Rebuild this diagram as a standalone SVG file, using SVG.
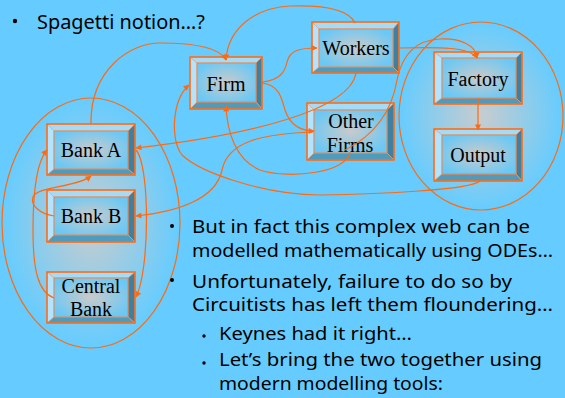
<svg xmlns="http://www.w3.org/2000/svg" width="565" height="398" viewBox="0 0 565 398">
<style>
.bg{fill:#66CCFF}
.ell{stroke:#FF6A10;stroke-width:1.2}
.bt{fill:#A2DCF8;stroke:#F2A070;stroke-width:0.6}
.bl{fill:#B2E4FF;stroke:#F2A070;stroke-width:0.6}
.br{fill:#3F7F9F;stroke:#F2A070;stroke-width:0.6}
.bb{fill:#4E9BBE;stroke:#F2A070;stroke-width:0.6}
.face{fill:url(#fg);stroke:#F0844A;stroke-width:1}
.outer{fill:none;stroke:#FF6A10;stroke-width:1.5}
.lbl{font-family:"Liberation Serif","Times New Roman",serif;font-size:20px;fill:#000;text-anchor:middle}
.txt{font-family:"Noto Sans","DejaVu Sans",sans-serif;font-size:18px;fill:#000}
.con{fill:none;stroke:#FF6A10;stroke-width:1.2}
</style>
<defs>
<radialGradient id="fg" cx="50%" cy="50%" r="60%">
<stop offset="0" stop-color="#CACACA"/>
<stop offset="1" stop-color="#68C8F6"/>
</radialGradient>
<radialGradient id="eg" cx="50%" cy="50%" r="50%">
<stop offset="0" stop-color="#C8CCCE"/>
<stop offset="1" stop-color="#66CCFF"/>
</radialGradient>
<marker id="ah" viewBox="0 0 10 10" refX="9" refY="5" markerWidth="7" markerHeight="6" markerUnits="userSpaceOnUse" orient="auto">
<path d="M0,0 L10,5 L0,10 z" fill="#FF6A10"/>
</marker>
</defs>
<rect class="bg" x="0" y="0" width="565" height="398"/>

<g id="groups">
<ellipse class="ell" cx="91" cy="223" rx="89" ry="125" fill="url(#eg)"/>
<ellipse class="ell" cx="481" cy="116" rx="82" ry="94" fill="url(#eg)"/>
</g>

<g id="firm">
<polygon class="bt" points="190,57 262,57 256,63 197,63"/>
<polygon class="bl" points="190,57 197,63 197,102 190,109"/>
<polygon class="br" points="262,57 262,109 256,102 256,63"/>
<polygon class="bb" points="190,109 262,109 256,102 197,102"/>
<rect class="face" x="197" y="63" width="59" height="39"/>
<rect class="outer" x="190" y="57" width="72" height="52"/>
<text class="lbl" x="226" y="91">Firm</text>
</g>

<g id="workers">
<polygon class="bt" points="312,22 399,22 393,29 319,29"/>
<polygon class="bl" points="312,22 319,29 319,67 312,73"/>
<polygon class="br" points="399,22 399,73 393,67 393,29"/>
<polygon class="bb" points="312,73 399,73 393,67 319,67"/>
<rect class="face" x="319" y="29" width="74" height="38"/>
<rect class="outer" x="312" y="22" width="87" height="51"/>
<text class="lbl" x="356" y="55">Workers</text>
</g>

<g id="other-firms">
<polygon class="bt" points="307,103 394,103 387,110 314,110"/>
<polygon class="bl" points="307,103 314,110 314,153 307,160"/>
<polygon class="br" points="394,103 394,160 387,153 387,110"/>
<polygon class="bb" points="307,160 394,160 387,153 314,153"/>
<rect class="face" x="314" y="110" width="73" height="43"/>
<rect class="outer" x="307" y="103" width="87" height="57"/>
<text class="lbl" x="351" y="128">Other</text>
<text class="lbl" x="350" y="152">Firms</text>
</g>

<g id="factory">
<polygon class="bt" points="434,52 522,52 516,58 442,58"/>
<polygon class="bl" points="434,52 442,58 442,98 434,104"/>
<polygon class="br" points="522,52 522,104 516,98 516,58"/>
<polygon class="bb" points="434,104 522,104 516,98 442,98"/>
<rect class="face" x="442" y="58" width="74" height="40"/>
<rect class="outer" x="434" y="52" width="88" height="52"/>
<text class="lbl" x="478" y="86">Factory</text>
</g>

<g id="output">
<polygon class="bt" points="434,129 522,129 516,135 442,135"/>
<polygon class="bl" points="434,129 442,135 442,174 434,181"/>
<polygon class="br" points="522,129 522,181 516,174 516,135"/>
<polygon class="bb" points="434,181 522,181 516,174 442,174"/>
<rect class="face" x="442" y="135" width="74" height="39"/>
<rect class="outer" x="434" y="129" width="88" height="52"/>
<text class="lbl" x="478" y="162">Output</text>
</g>

<g id="bank-a">
<polygon class="bt" points="47,124 135,124 128,131 54,131"/>
<polygon class="bl" points="47,124 54,131 54,169 47,175"/>
<polygon class="br" points="135,124 135,175 128,169 128,131"/>
<polygon class="bb" points="47,175 135,175 128,169 54,169"/>
<rect class="face" x="54" y="131" width="74" height="38"/>
<rect class="outer" x="47" y="124" width="88" height="51"/>
<text class="lbl" x="91" y="157">Bank A</text>
</g>

<g id="bank-b">
<polygon class="bt" points="47,190 135,190 128,197 54,197"/>
<polygon class="bl" points="47,190 54,197 54,235 47,242"/>
<polygon class="br" points="135,190 135,242 128,235 128,197"/>
<polygon class="bb" points="47,242 135,242 128,235 54,235"/>
<rect class="face" x="54" y="197" width="74" height="38"/>
<rect class="outer" x="47" y="190" width="88" height="52"/>
<text class="lbl" x="91" y="223">Bank B</text>
</g>

<g id="central-bank">
<polygon class="bt" points="47,272 135,272 128,278 54,278"/>
<polygon class="bl" points="47,272 54,278 54,317 47,323"/>
<polygon class="br" points="135,272 135,323 128,317 128,278"/>
<polygon class="bb" points="47,323 135,323 128,317 54,317"/>
<rect class="face" x="54" y="278" width="74" height="39"/>
<rect class="outer" x="47" y="272" width="88" height="51"/>
<text class="lbl" x="91" y="293">Central</text>
<text class="lbl" x="91" y="316">Bank</text>
</g>

<g id="connectors">
<path class="con" marker-end="url(#ah)" d="M91,124 C90,70 130,43 160,43 C195,43 220,48 226,60"/>
<path class="con" marker-end="url(#ah)" d="M355,23 C348,8 320,5 290,6 C255,8 228,28 226,60"/>
<path class="con" marker-end="url(#ah)" d="M262,82 C280,80 285,72 287,62 C290,50 300,48 317,48"/>
<path class="con" marker-end="url(#ah)" d="M262,83 C280,85 282,100 285,110 C290,125 300,131 314,131"/>
<path class="con" marker-end="url(#ah)" d="M313,132 C260,134 228,142 222,170 C216,200 175,212 136,216"/>
<path class="con" marker-end="url(#ah)" d="M356,73 C350,110 250,135 136,148"/>
<path class="con" marker-end="url(#ah)" d="M350,152 C348,172 290,180 260,170 C235,160 227,130 226,106"/>
<path class="con" marker-end="url(#ah)" d="M480,181 C470,190 380,194 320,195 C260,194 200,172 182,155 C170,140 172,100 189,85"/>
<path class="con" marker-end="url(#ah)" d="M345,150 C375,135 392,110 397,80 C402,55 415,40 440,39 C460,38 476,45 477,58"/>
<path class="con" marker-end="url(#ah)" d="M399,48 C440,47 470,47 477,58"/>
<path class="con" marker-end="url(#ah)" d="M478,98 L478,130"/>
<path class="con" marker-end="url(#ah)" d="M54,216 C40,214 30,205 33,197 C37,186 75,188 91,176"/>
<path class="con" marker-end="url(#ah)" d="M54,298 C38,292 33,270 33,230 C33,185 38,160 47,150"/>
<path class="con" marker-end="url(#ah)" d="M136,150 C150,165 150,270 136,297"/>
</g>

<g id="text">
<circle cx="15" cy="21" r="2.2" fill="#000"/>
<text class="txt" x="37" y="29" textLength="168" lengthAdjust="spacingAndGlyphs" style="font-size:19px">Spagetti notion…?</text>
<circle cx="172" cy="226" r="2" fill="#000"/>
<text class="txt" x="192" y="233" textLength="338" lengthAdjust="spacingAndGlyphs">But in fact this complex web can be</text>
<text class="txt" x="192" y="257" textLength="361" lengthAdjust="spacingAndGlyphs">modelled mathematically using ODEs…</text>
<circle cx="172" cy="280" r="2" fill="#000"/>
<text class="txt" x="192" y="288" textLength="320" lengthAdjust="spacingAndGlyphs">Unfortunately, failure to do so by</text>
<text class="txt" x="192" y="311" textLength="361" lengthAdjust="spacingAndGlyphs">Circuitists has left them floundering…</text>
<circle cx="204" cy="336" r="1.7" fill="#000"/>
<text class="txt" x="219" y="340" textLength="193" lengthAdjust="spacingAndGlyphs">Keynes had it right…</text>
<circle cx="204" cy="363" r="1.7" fill="#000"/>
<text class="txt" x="219" y="366" textLength="323" lengthAdjust="spacingAndGlyphs">Let’s bring the two together using</text>
<text class="txt" x="219" y="390" textLength="224" lengthAdjust="spacingAndGlyphs">modern modelling tools:</text>
</g>
</svg>
